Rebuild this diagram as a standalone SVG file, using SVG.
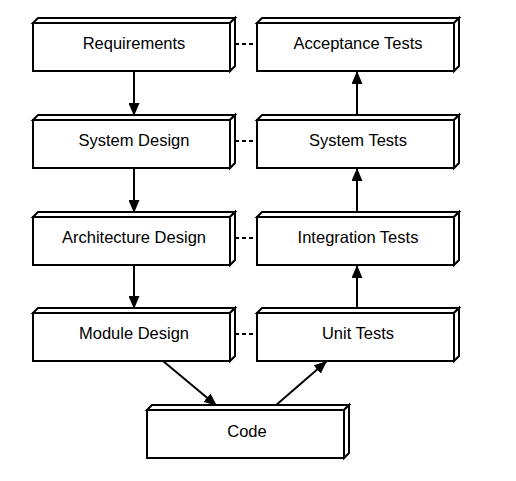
<svg xmlns="http://www.w3.org/2000/svg" width="516" height="481" viewBox="0 0 516 481">
<style>
.f{fill:#fff;stroke:#000;stroke-width:2;stroke-linejoin:miter}
.t{font-family:"Liberation Sans",Arial,sans-serif;font-size:16.5px;fill:#000;text-anchor:middle}
.a{stroke:#000;stroke-width:2;fill:none}
.d{stroke:#000;stroke-width:2;fill:none;stroke-dasharray:4 3}
</style>
<defs>
<marker id="ah" markerUnits="userSpaceOnUse" markerWidth="13" markerHeight="11" refX="13" refY="5.5" orient="auto">
<path d="M0,0 L13,5.5 L0,11 z" fill="#000"/>
</marker>
<g id="box">
<path class="f" d="M0,0 L5,-5 L202,-5 L197,0 z"/>
<path class="f" d="M197,0 L202,-5 L202,43 L197,48 z"/>
<rect class="f" x="0" y="0" width="197" height="48"/>
</g>
</defs>
<g id="connectors">
<line class="d" x1="235" y1="44" x2="257" y2="44"/>
<line class="d" x1="235" y1="141" x2="257" y2="141"/>
<line class="d" x1="235" y1="238" x2="257" y2="238"/>
<line class="d" x1="235" y1="334" x2="257" y2="334"/>
<line class="a" x1="134" y1="72" x2="134" y2="116" marker-end="url(#ah)"/>
<line class="a" x1="134" y1="169" x2="134" y2="213" marker-end="url(#ah)"/>
<line class="a" x1="134" y1="265" x2="134" y2="309" marker-end="url(#ah)"/>
<line class="a" x1="357" y1="309" x2="357" y2="265" marker-end="url(#ah)"/>
<line class="a" x1="357" y1="212" x2="357" y2="168" marker-end="url(#ah)"/>
<line class="a" x1="357" y1="115" x2="357" y2="71" marker-end="url(#ah)"/>
<line class="a" x1="163" y1="361" x2="217" y2="406" marker-end="url(#ah)"/>
<line class="a" x1="275" y1="406" x2="327" y2="361" marker-end="url(#ah)"/>
</g>
<g id="requirements"><use href="#box" x="33" y="23"/><text class="t" x="134" y="49">Requirements</text></g>
<g id="system-design"><use href="#box" x="33" y="120"/><text class="t" x="134" y="146">System Design</text></g>
<g id="architecture-design"><use href="#box" x="33" y="217"/><text class="t" x="134" y="243">Architecture Design</text></g>
<g id="module-design"><use href="#box" x="33" y="313"/><text class="t" x="134" y="339">Module Design</text></g>
<g id="acceptance-tests"><use href="#box" x="257" y="23"/><text class="t" x="358" y="49">Acceptance Tests</text></g>
<g id="system-tests"><use href="#box" x="257" y="120"/><text class="t" x="358" y="146">System Tests</text></g>
<g id="integration-tests"><use href="#box" x="257" y="217"/><text class="t" x="358" y="243">Integration Tests</text></g>
<g id="unit-tests"><use href="#box" x="257" y="313"/><text class="t" x="358" y="339">Unit Tests</text></g>
<g id="code"><use href="#box" x="147" y="410"/><text class="t" x="247" y="437">Code</text></g>
</svg>
